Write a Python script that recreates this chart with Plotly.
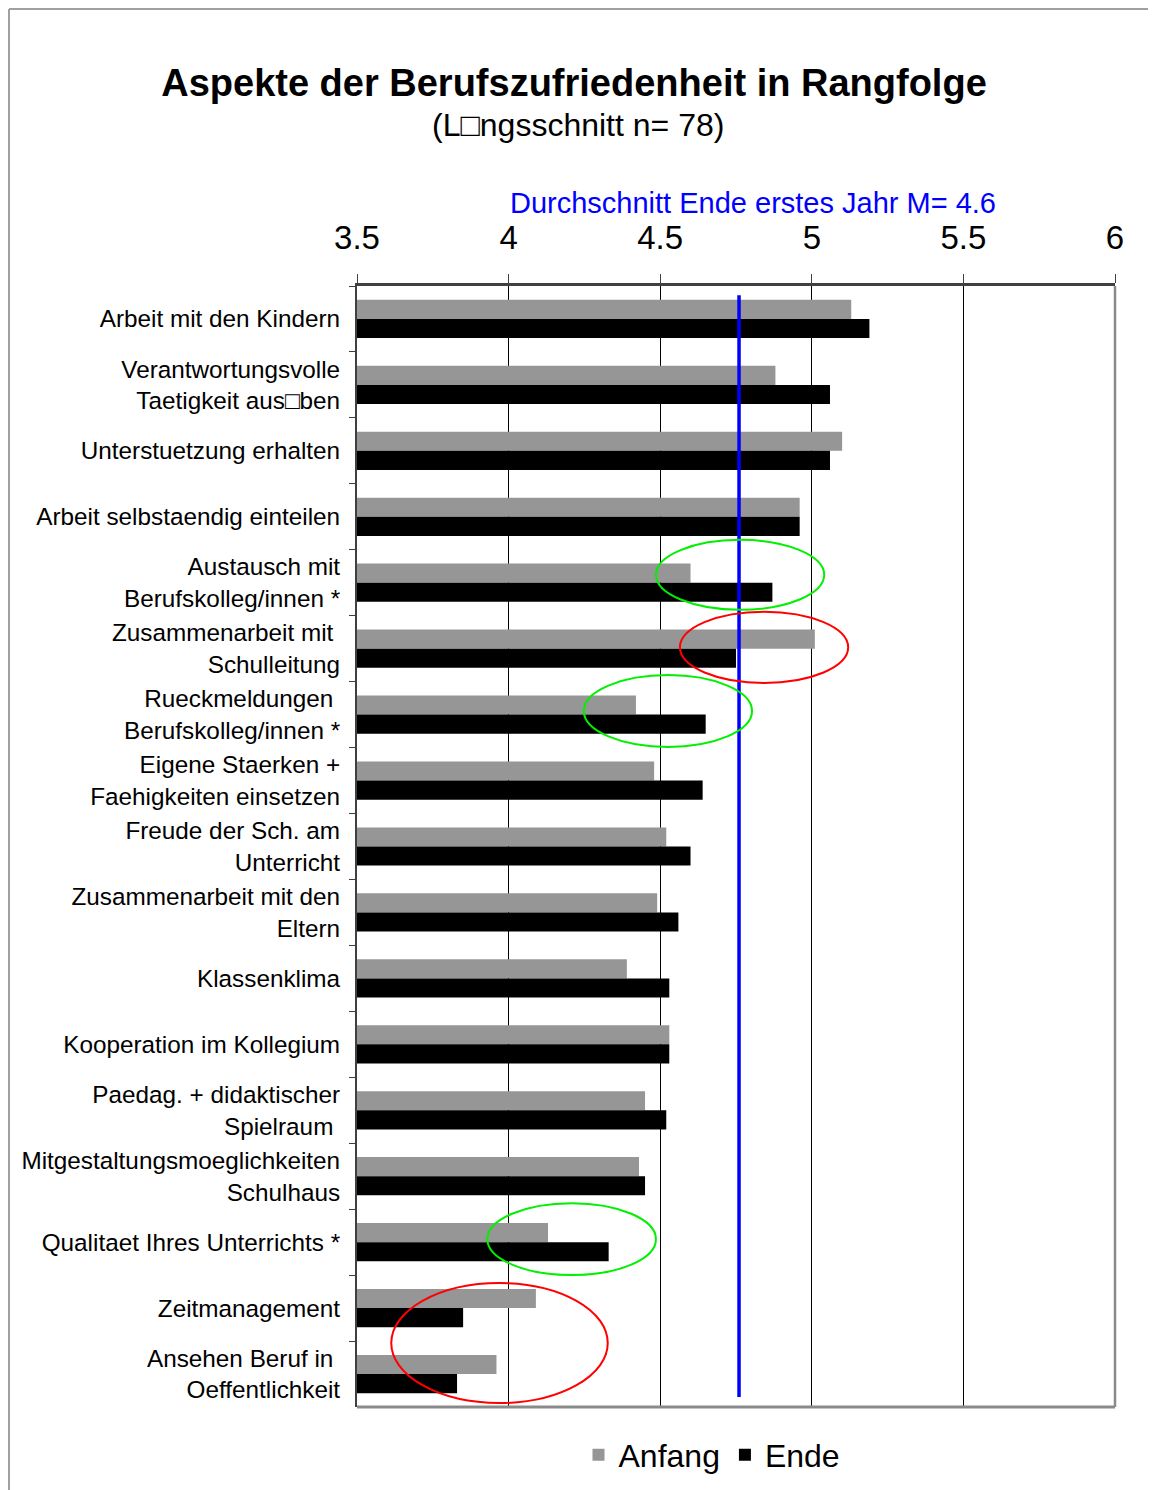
import plotly.graph_objects as go

categories = [
    "Arbeit mit den Kindern",
    "Verantwortungsvolle<br>Taetigkeit aus\u25a1ben",
    "Unterstuetzung erhalten",
    "Arbeit selbstaendig einteilen",
    "Austausch mit<br>Berufskolleg/innen *",
    "Zusammenarbeit mit\u00a0<br>Schulleitung",
    "Rueckmeldungen\u00a0<br>Berufskolleg/innen *",
    "Eigene Staerken +<br>Faehigkeiten einsetzen",
    "Freude der Sch. am<br>Unterricht",
    "Zusammenarbeit mit den<br>Eltern",
    "Klassenklima",
    "Kooperation im Kollegium",
    "Paedag. + didaktischer<br>Spielraum\u00a0",
    "Mitgestaltungsmoeglichkeiten<br>Schulhaus",
    "Qualitaet Ihres Unterrichts *",
    "Zeitmanagement",
    "Ansehen Beruf in\u00a0<br>Oeffentlichkeit",
]
anfang = [5.13, 4.88, 5.10, 4.96, 4.60, 5.01, 4.42, 4.48, 4.52, 4.49,
          4.39, 4.53, 4.45, 4.43, 4.13, 4.09, 3.96]
ende = [5.19, 5.06, 5.06, 4.96, 4.87, 4.75, 4.65, 4.64, 4.60, 4.56,
        4.53, 4.53, 4.52, 4.45, 4.33, 3.85, 3.83]
x_ticks = [3.5, 4, 4.5, 5, 5.5, 6]
x_ticklabels = ["3.5", "4", "4.5", "5", "5.5", "6"]
mean_line = 4.76

FONT = "Arial, 'Liberation Sans', sans-serif"

fig = go.Figure()
fig.add_trace(go.Bar(y=categories, x=anfang, orientation="h", name="Anfang",
                     marker=dict(color="#969696", line=dict(width=0))))
fig.add_trace(go.Bar(y=categories, x=ende, orientation="h", name="Ende",
                     marker=dict(color="#000000", line=dict(width=0))))

# page has an 8px body margin; layout measured in screen px, converted below
OFF = 8
W, H = 1156 - OFF, 1490 - OFF
L, T = 357 - OFF, 286 - OFF
R = W - (1115 - OFF)
B = H - (1407 - OFF)
pw, ph = W - L - R, H - T - B


def px(xs):
    return (xs - OFF - L) / pw


def py(ys):
    return (H - B - (ys - OFF)) / ph


shapes = []
# outer frame (top and left edge of the figure)
shapes.append(dict(type="line", xref="paper", yref="paper", x0=px(OFF + 1), x1=px(OFF + W + 4),
                   y0=py(OFF + 1), y1=py(OFF + 1), line=dict(color="#a0a0a0", width=2)))
shapes.append(dict(type="line", xref="paper", yref="paper", x0=px(OFF + 1), x1=px(OFF + 1),
                   y0=py(OFF + 1), y1=py(OFF + H + 4), line=dict(color="#a0a0a0", width=2)))
# plot border right and bottom
shapes.append(dict(type="line", xref="paper", yref="paper", x0=1, x1=1, y0=0, y1=1,
                   line=dict(color="#8a8a8a", width=2.5)))
shapes.append(dict(type="line", xref="paper", yref="paper", x0=0, x1=1, y0=0, y1=0,
                   line=dict(color="#8a8a8a", width=3)))
# mean line
shapes.append(dict(type="line", xref="x", yref="y", x0=mean_line, x1=mean_line,
                   y0=-0.36, y1=16.35, line=dict(color="#0000ff", width=3.5)))
# ellipses
ellipses = [
    ("#00f000", 4.486, 5.041, 3.35, 4.41),
    ("#ff0000", 4.565, 5.120, 4.44, 5.52),
    ("#00f000", 4.248, 4.803, 5.40, 6.49),
    ("#00f000", 3.930, 4.486, 13.41, 14.50),
    ("#ff0000", 3.613, 4.327, 14.62, 16.44),
]
for c, x0, x1, y0, y1 in ellipses:
    shapes.append(dict(type="circle", xref="x", yref="y", x0=x0, x1=x1, y0=y0, y1=y1,
                       line=dict(color=c, width=2)))

fig.update_layout(
    width=W, height=H,
    margin=dict(l=L, r=R, t=T, b=B, autoexpand=False),
    paper_bgcolor="white", plot_bgcolor="white",
    font=dict(family=FONT, color="black"),
    barmode="group", bargap=0.42, bargroupgap=0,
    title=dict(text="<b>Aspekte der Berufszufriedenheit in Rangfolge</b>",
               font=dict(size=38, family=FONT, color="black"),
               x=(574 - OFF) / W, xanchor="center", xref="container",
               y=1 - (83 - OFF) / H, yanchor="middle", yref="container"),
    xaxis=dict(range=[3.5, 6], side="top", tickvals=x_ticks, ticktext=x_ticklabels,
               showgrid=True, gridcolor="black", gridwidth=1, zeroline=False,
               showline=True, linecolor="#404040", linewidth=3,
               ticks="outside", ticklen=9, tickcolor="#404040", tickwidth=1,
               tickfont=dict(size=33, family=FONT, color="black"),
               ticklabelstandoff=12, fixedrange=True),
    yaxis=dict(type="category", categoryorder="array", categoryarray=categories,
               range=[16.5, -0.5], showgrid=False, zeroline=False,
               showline=True, linecolor="#404040", linewidth=2,
               ticks="outside", ticklen=6, tickcolor="#404040", tickson="boundaries",
               tickfont=dict(size=24.3, family=FONT, color="black"),
               ticklabelstandoff=10, fixedrange=True),
    legend=dict(orientation="h", x=px(712), xanchor="center", y=py(1455), yanchor="middle",
                font=dict(size=32, family=FONT, color="black"),
                itemwidth=30, traceorder="normal", bgcolor="rgba(0,0,0,0)"),
    shapes=shapes,
    annotations=[
        dict(text="(L\u25a1ngsschnitt n= 78)", xref="paper", yref="paper",
             x=px(578), y=py(125), xanchor="center", yanchor="middle",
             showarrow=False, font=dict(size=32, family=FONT, color="black")),
        dict(text="Durchschnitt Ende erstes Jahr M= 4.6", xref="paper", yref="paper",
             x=px(753), y=py(203), xanchor="center", yanchor="middle",
             showarrow=False, font=dict(size=29, family=FONT, color="#0000ff")),
    ],
)

fig.write_html("out.html")
